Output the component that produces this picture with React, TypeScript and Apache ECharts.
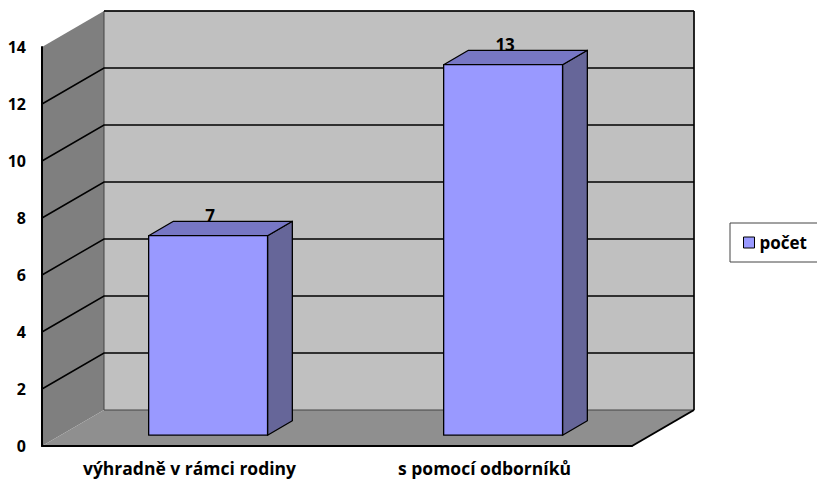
import React, { useEffect, useRef } from "react";
import * as echarts from "echarts";

const categories = ["výhradně v rámci rodiny", "s pomocí odborníků"];
const values = [7, 13];
const seriesName = "počet";
const gridValues = [2, 4, 6, 8, 10, 12, 14];

const DX = 62;
const DY = -36;
const BAR_D0 = 0.3;
const BAR_D1 = 0.7;
const BAR_W = 0.403;
const FONT = "'Open Sans', 'Noto Sans', sans-serif";

export default function App() {
  const ref = useRef<HTMLDivElement>(null);
  useEffect(() => {
    if (!ref.current) return;
    const chart = echarts.init(ref.current, undefined, { renderer: "svg" });
    const bounds = (api: any) => {
      const band = api.size([1, 0])[0];
      const left = api.coord([0, 0])[0] - band / 2;
      const right = api.coord([categories.length - 1, 0])[0] + band / 2;
      const bottom = api.coord([0, 0])[1];
      const top = api.coord([0, 14])[1];
      return { band, left, right, bottom, top };
    };
    chart.setOption({
      animation: false,
      grid: { left: 42, right: 185, top: 47, bottom: 38 },
      legend: {
        left: 730,
        top: 223,
        orient: "vertical",
        borderColor: "#444",
        borderWidth: 1,
        padding: [11, 12, 11, 13],
        itemWidth: 11,
        itemHeight: 11,
        textStyle: { fontFamily: FONT, fontWeight: "bold", fontSize: 17, color: "#000" },
        data: [
          {
            name: seriesName,
            icon: "rect",
            itemStyle: { color: "#9999FF", borderColor: "#000", borderWidth: 1 },
          },
        ],
      },
      xAxis: {
        type: "category",
        data: categories,
        z: 10,
        axisLine: { show: true, lineStyle: { color: "#000", width: 2 } },
        axisTick: { show: false },
        splitLine: { show: false },
        axisLabel: { margin: 13, fontFamily: FONT, fontWeight: "bold", fontSize: 17.5, color: "#000" },
      },
      yAxis: {
        type: "value",
        min: 0,
        max: 14,
        interval: 2,
        z: 10,
        axisLine: { show: true, lineStyle: { color: "#000", width: 2 } },
        axisTick: { show: false },
        splitLine: { show: false },
        axisLabel: {
          margin: 16,
          fontFamily: FONT,
          fontWeight: "bold",
          fontSize: 16,
          color: "#000",
        },
      },
      series: [
        {
          type: "custom",
          name: "walls",
          z: 1,
          silent: true,
          data: [[0, 0]],
          encode: { x: 0, y: 1 },
          renderItem: (_p: any, api: any) => {
            const b = bounds(api);
            return {
              type: "group",
              children: [
                {
                  type: "polygon",
                  shape: {
                    points: [
                      [b.left, b.bottom],
                      [b.left, b.top],
                      [b.left + DX, b.top + DY],
                      [b.left + DX, b.bottom + DY],
                    ],
                  },
                  style: { fill: "#7f7f7f", stroke: "none" },
                },
                {
                  type: "polygon",
                  shape: {
                    points: [
                      [b.left, b.bottom],
                      [b.right, b.bottom],
                      [b.right + DX, b.bottom + DY],
                      [b.left + DX, b.bottom + DY],
                    ],
                  },
                  style: { fill: "#8f8f8f", stroke: "none" },
                },
                {
                  type: "rect",
                  shape: {
                    x: b.left + DX,
                    y: b.top + DY,
                    width: b.right - b.left,
                    height: b.bottom - b.top,
                  },
                  style: { fill: "#c0c0c0", stroke: "#444", lineWidth: 1 },
                },
                {
                  type: "line",
                  shape: { x1: b.right + DX, y1: b.top + DY, x2: b.right + DX, y2: b.bottom + DY },
                  style: { stroke: "#000", lineWidth: 1.5 },
                },
                {
                  type: "line",
                  shape: { x1: b.right, y1: b.bottom, x2: b.right + DX, y2: b.bottom + DY },
                  style: { stroke: "#000", lineWidth: 2 },
                },
              ],
            };
          },
        },
        {
          type: "custom",
          name: "grid",
          z: 2,
          silent: true,
          data: gridValues.map((v) => [0, v]),
          encode: { x: 0, y: 1 },
          renderItem: (_p: any, api: any) => {
            const b = bounds(api);
            const v = api.value(1);
            const y = api.coord([0, v])[1];
            const pts = v < 14
              ? [[b.left, y], [b.left + DX, y + DY], [b.right + DX, y + DY]]
              : [[b.left + DX, y + DY], [b.right + DX, y + DY]];
            return {
              type: "polyline",
              shape: { points: pts },
              style: { stroke: "#000", lineWidth: 1.5, fill: "none" },
            };
          },
        },
        {
          type: "custom",
          name: seriesName,
          z: 3,
          itemStyle: { color: "#9999FF" },
          data: values.map((v, i) => [i, v]),
          encode: { x: 0, y: 1 },
          renderItem: (_p: any, api: any) => {
            const i = api.value(0);
            const v = api.value(1);
            const band = api.size([1, 0])[0];
            const w = band * BAR_W;
            const c = api.coord([i, v]);
            const c0 = api.coord([i, 0]);
            const fx = BAR_D0 * DX, fy = BAR_D0 * DY;
            const bx = BAR_D1 * DX, by = BAR_D1 * DY;
            const x0 = c[0] - w / 2 + fx;
            const x1 = c[0] + w / 2 + fx;
            const yt = c[1] + fy;
            const yb = c0[1] + fy;
            const ddx = bx - fx, ddy = by - fy;
            const stroke = { stroke: "#000", lineWidth: 1.3, lineJoin: "round" };
            return {
              type: "group",
              children: [
                {
                  type: "polygon",
                  shape: { points: [[x1, yb], [x1, yt], [x1 + ddx, yt + ddy], [x1 + ddx, yb + ddy]] },
                  style: { fill: "#666699", ...stroke },
                },
                {
                  type: "polygon",
                  shape: { points: [[x0, yt], [x1, yt], [x1 + ddx, yt + ddy], [x0 + ddx, yt + ddy]] },
                  style: { fill: "#7777c4", ...stroke },
                },
                {
                  type: "rect",
                  shape: { x: x0, y: yt, width: x1 - x0, height: yb - yt },
                  style: { fill: "#9999FF", ...stroke },
                },
                {
                  type: "text",
                  x: c[0] + fx + 2,
                  y: yt - 12,
                  style: {
                    text: String(v),
                    textAlign: "center",
                    textVerticalAlign: "bottom",
                    fontFamily: FONT,
                    fontWeight: "bold",
                    fontSize: 17,
                    fill: "#000",
                  },
                },
              ],
            };
          },
        },
      ],
    });
    return () => chart.dispose();
  }, []);
  return <div ref={ref} style={{ width: 817, height: 484, position: "absolute", left: 0, top: 0, background: "#fff" }} />;
}
